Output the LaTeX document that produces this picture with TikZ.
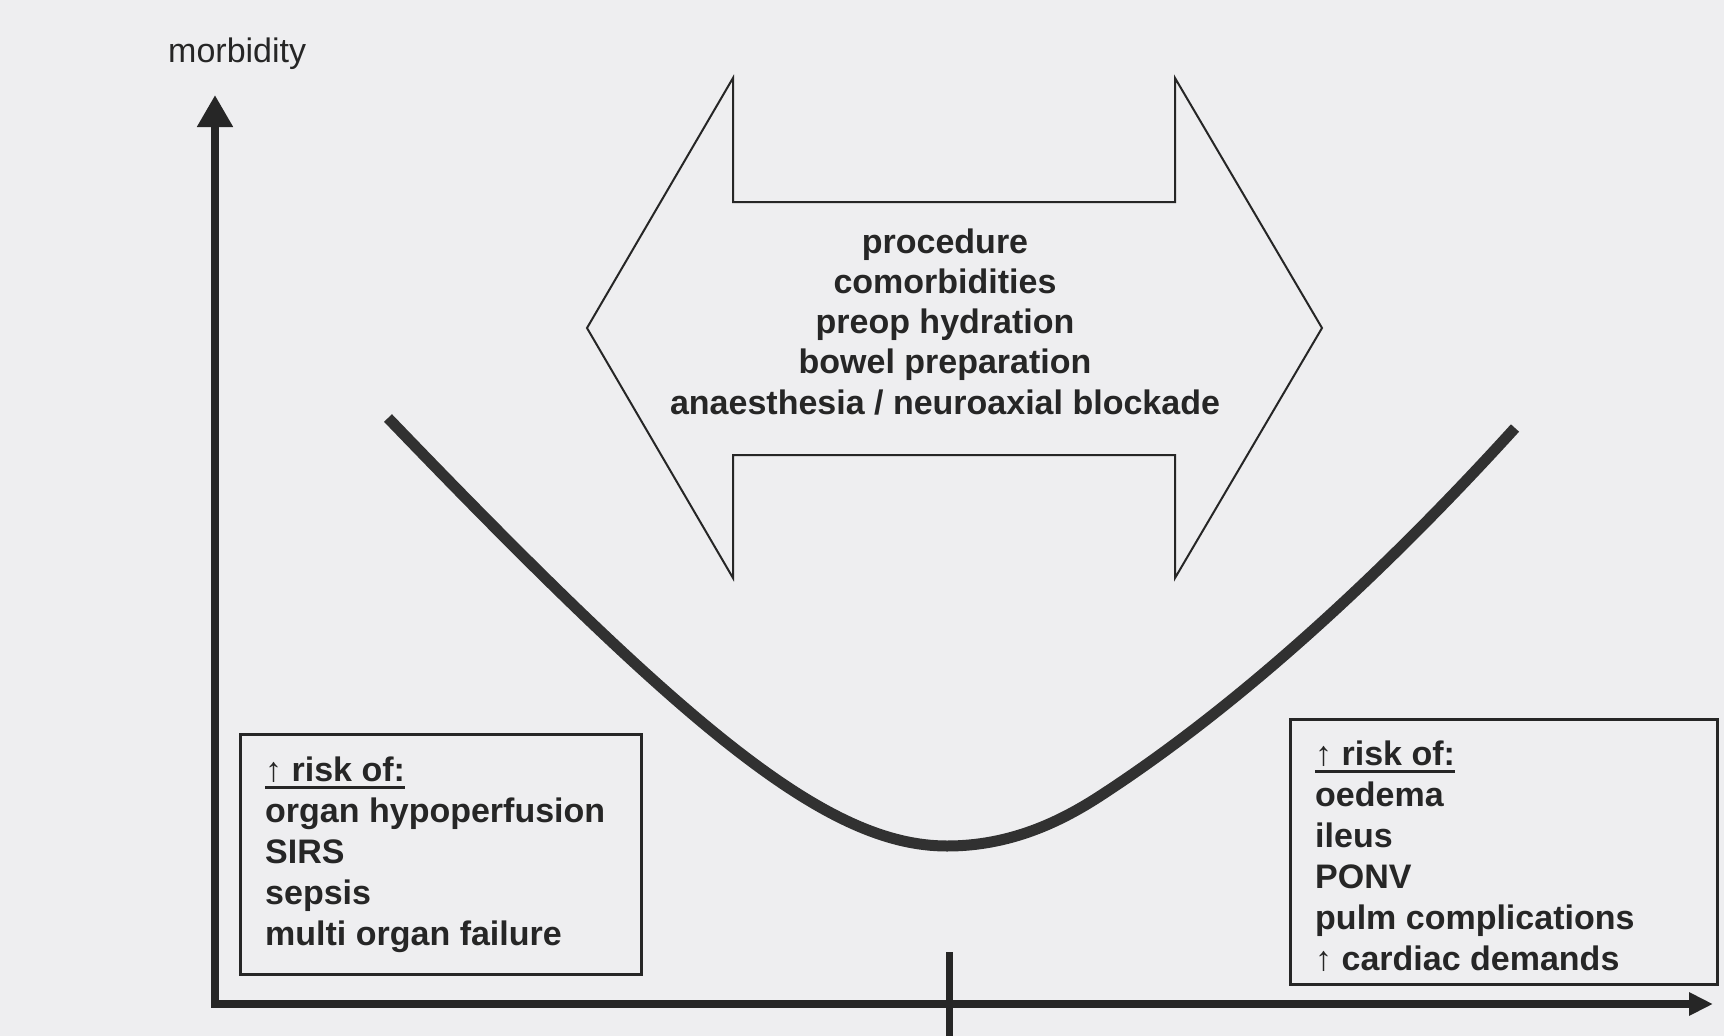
\documentclass[tikz,border=0pt]{standalone}
\usepackage{fontspec}
\setmainfont{Liberation Sans}
\usetikzlibrary{arrows.meta}
\definecolor{bgc}{HTML}{EEEEF0}
\definecolor{ink}{HTML}{262626}
\begin{document}
\begin{tikzpicture}[x=1pt,y=-1pt,
  txt/.style={inner sep=0pt, anchor=base west, text=ink,
    font=\fontsize{34}{41}\selectfont\bfseries},
  ctxt/.style={txt, anchor=base},
  riskbox/.style={draw=ink, line width=2.5pt, anchor=north west, inner sep=0pt},
  axisline/.style={draw=ink, line width=8pt, line join=miter},
  ucurve/.style={draw=ink!95!white, line width=11pt, line cap=butt},
  dblarrow/.style={draw=ink, line width=2pt, line join=miter},
  uline/.style={draw=ink, line width=3pt}]
\fill[bgc] (0,0) rectangle (1724,1036);
\useasboundingbox (0,0) rectangle (1724,1036);

% axes
\coordinate (ytip) at (215,95);
\coordinate (xtip) at (1713,1004);
\draw[axisline, {Triangle[width=34pt,length=32pt]}-{Triangle[width=22pt,length=24pt]}] (ytip) |- (xtip);
\coordinate (tickt) at (949,952);
\coordinate (tickb) at (949,1036);
\draw[draw=ink, line width=7pt] (tickt) -- (tickb);
\node[txt, font=\fontsize{34}{41}\selectfont] (ylab) at (168,62) {morbidity};

% double arrow
\draw[dblarrow] (587,328) -- (733,78) -- (733,202) -- (1175,202) -- (1175,78)
  -- (1322,328) -- (1175,578) -- (1175,455) -- (733,455) -- (733,578) -- cycle;
\foreach \t [count=\i from 0] in {procedure, comorbidities, preop hydration, bowel preparation, anaesthesia / neuroaxial blockade}
  \node[ctxt] (c\i) at (945,{253+40.3*\i}) {\t};

% U curve
\coordinate (ustart) at (388,418);
\coordinate (ubottom) at (947,846);
\coordinate (umid) at (1100,796);
\coordinate (uend) at (1515,428);
\draw[ucurve] (ustart) .. controls (688,730) and (827,846) .. (ubottom)
  .. controls (1010,846) and (1060,822) .. (umid)
  .. controls (1250,698.5) and (1395,560) .. (uend);

% left box
\node[riskbox, minimum width=401pt, minimum height=240pt] (lbox) at (239,733) {};
\foreach \t [count=\i from 0] in {{{\mdseries ↑}~risk of:}, organ hypoperfusion, SIRS, sepsis, multi organ failure}
  \node[txt] (l\i) at (265,{781+41*\i}) {\t};
\draw[uline] ([yshift=-6pt]l0.base west) -- ([yshift=-6pt]l0.base east);

% right box
\node[riskbox, minimum width=427pt, minimum height=265pt] (rbox) at (1289,718) {};
\foreach \t [count=\i from 0] in {{{\mdseries ↑}~risk of:}, oedema, ileus, PONV, pulm complications, {{\mdseries ↑}~cardiac demands}}
  \node[txt] (r\i) at (1315,{765+41*\i}) {\t};
\draw[uline] ([yshift=-6pt]r0.base west) -- ([yshift=-6pt]r0.base east);
\end{tikzpicture}
\end{document}
